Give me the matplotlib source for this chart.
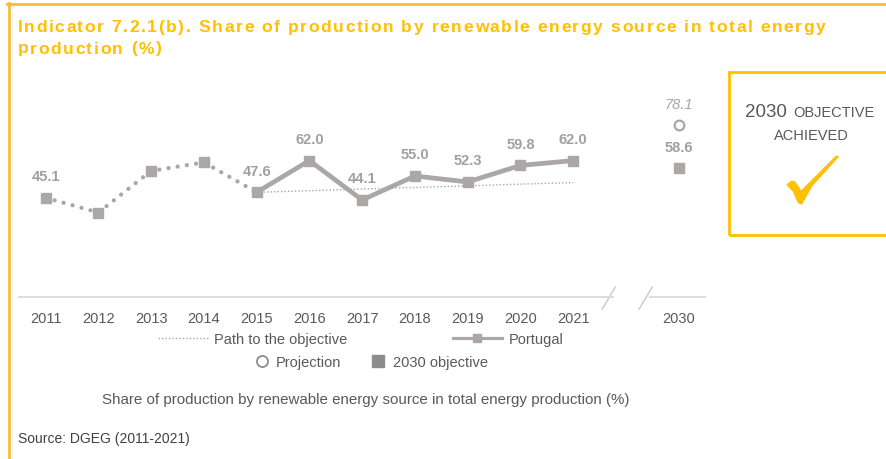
import numpy as np
import matplotlib
matplotlib.use("Agg")
import matplotlib.pyplot as plt
from matplotlib.lines import Line2D
from matplotlib.patches import Rectangle, Polygon

plt.rcParams['font.family'] = ['Liberation Sans', 'DejaVu Sans']

# ---------------- data ----------------
years = ['2011', '2012', '2013', '2014', '2015', '2016', '2017', '2018', '2019', '2020', '2021']
portugal = [45.1, 38.4, 57.3, 61.2, 47.6, 62.0, 44.1, 55.0, 52.3, 59.8, 62.0]
portugal_labeled = [True, False, False, False, True, True, True, True, True, True, True]
path_years = ['2015', '2016', '2017', '2018', '2019', '2020', '2021']
path_values = [47.6, 48.3, 49.1, 49.8, 50.5, 51.3, 52.0]
target_year = '2030'
projection_2030 = 78.1
objective_2030 = 58.6

title_lines = ["Indicator 7.2.1(b). Share of production by renewable energy source in total energy",
               "production (%)"]
caption = "Share of production by renewable energy source in total energy production (%)"
source = "Source: DGEG (2011-2021)"

# ---------------- styles ----------------
W, H = 887, 460
YELLOW = '#FFC000'
BORDER = '#F9BC33'
LINE = '#ABA7A7'
LABEL = '#A0A0A0'
TEXT = '#595959'

fig = plt.figure(figsize=(W / 100, H / 100), dpi=100)
renderer = fig.canvas.get_renderer()

def fx(px):
    return px / W

def fy(py):
    return 1 - py / H

# frame lines (top and left)
fig.add_artist(Line2D([fx(7.5), 1], [fy(5), fy(5)], color=BORDER, lw=2.0))
fig.add_artist(Line2D([fx(8.7), fx(8.7)], [fy(4), 0], color=BORDER, lw=2.0))

# title with letter spacing (tracking)
tprops = dict(fontsize=12.6, fontweight='bold', color=YELLOW,
              family=['Liberation Sans Narrow', 'Liberation Sans'])

def text_w(s):
    t = fig.text(0, 0, s, **tprops)
    w = t.get_window_extent(renderer).width
    t.remove()
    return w

first = title_lines[0]
natural = text_w(first)
track = (808 - natural) / (len(first) - 1)
for line, base in zip(title_lines, [32, 53.5]):
    for i, ch in enumerate(line):
        if ch == ' ':
            continue
        left = text_w(line[:i + 1]) - text_w(ch)
        fig.text(fx(17.5 + left + i * track), fy(base), ch, ha='left', va='baseline', **tprops)

ax = fig.add_axes([fx(19.3), fy(298), fx(705) - fx(19.3), (298 - 78) / H])
ax.set_xlim(-0.5, 12.5)
ax.set_ylim(0, 100)
for s in ['top', 'right', 'left']:
    ax.spines[s].set_visible(False)
ax.spines['bottom'].set_bounds(-0.5, 10.75)
ax.spines['bottom'].set_color('#D9D9D9')
ax.spines['bottom'].set_linewidth(1.3)
ax.plot([11.45, 12.5], [0, 0], color='#D9D9D9', lw=1.3, clip_on=False)
for bx in (10.75, 11.45):
    ax.plot([bx - 0.2, bx + 0.05], [-5.5, 4.5], color='#C8C8C8', lw=1.0, clip_on=False)

xpos = np.arange(len(years))
x2030 = len(years) + 1
ax.set_xticks(list(xpos) + [x2030])
ax.set_xticklabels(years + [target_year], fontsize=10.5, color=TEXT)
ax.tick_params(axis='x', length=0, pad=10)
ax.set_yticks([])

path_x = [years.index(y) for y in path_years]
ax.plot(path_x, path_values, color='#A6A6A6', lw=1.0, ls=(0, (1, 1.5)), zorder=2)

split = years.index('2015')
ax.plot(xpos[:split + 1], portugal[:split + 1], color=LINE, lw=3.1,
        ls=(0, (0.01, 2.15)), dash_capstyle='round', zorder=3)
ax.plot(xpos[split:], portugal[split:], color=LINE, lw=3.4, zorder=3)
ax.plot(xpos, portugal, ls='none', marker='s', ms=7.3, color=LINE, zorder=4)

for xi, v, lab in zip(xpos, portugal, portugal_labeled):
    if lab:
        ax.annotate(f"{v:.1f}", (xi, v), xytext=(0, 15.5), textcoords='offset points',
                    ha='center', va='center', fontsize=10.5, fontweight='bold', color=LABEL)

ax.plot([x2030], [projection_2030], ls='none', marker='o', ms=7, mfc='white',
        mec=LINE, mew=1.6, zorder=4)
ax.plot([x2030], [objective_2030], ls='none', marker='s', ms=7, color=LINE, zorder=4)
ax.annotate(f"{projection_2030:.1f}", (x2030, projection_2030), xytext=(0, 15.5),
            textcoords='offset points', ha='center', va='center', fontsize=10.5,
            fontstyle='italic', color='#A6A6A6')
ax.annotate(f"{objective_2030:.1f}", (x2030, objective_2030), xytext=(0, 15.5),
            textcoords='offset points', ha='center', va='center', fontsize=10.5,
            fontweight='bold', color=LABEL)

# legends
h1 = [Line2D([], [], color='#A6A6A6', lw=1.0, ls=(0, (1, 1.5))),
      Line2D([], [], color=LINE, lw=2.3, marker='s', ms=5.5)]
leg1 = fig.legend(h1, ['Path to the objective', 'Portugal'], loc='center',
                  bbox_to_anchor=(fx(361), fy(340)), ncol=2, frameon=False,
                  fontsize=10.5, handlelength=3.4, handletextpad=0.45,
                  columnspacing=7.2, labelcolor=TEXT)
h2 = [Line2D([], [], ls='none', marker='o', ms=8, mfc='white', mec='#8C8C8C', mew=1.3),
      Line2D([], [], ls='none', marker='s', ms=8, color='#8C8C8C')]
leg2 = fig.legend(h2, ['Projection', '2030 objective'], loc='center',
                  bbox_to_anchor=(fx(371), fy(363)), ncol=2, frameon=False,
                  fontsize=10.5, handlelength=1.0, handletextpad=0.5,
                  columnspacing=2.0, labelcolor=TEXT)

fig.text(fx(366), fy(400), caption, ha='center', va='center', fontsize=10.9, color=TEXT)
fig.text(fx(17.5), fy(439), source, ha='left', va='center', fontsize=10, color='#404040')

# objective box
fig.add_artist(Rectangle((fx(729), fy(236)), fx(900) - fx(729), fy(73) - fy(236),
                         transform=fig.transFigure, fill=False, ec=YELLOW, lw=2.0,
                         clip_on=False))
fig.text(fx(787), fy(117), '2030', ha='right', va='baseline', fontsize=13.5, color=TEXT)
fig.text(fx(793), fy(117), 'OBJECTIVE', ha='left', va='baseline', fontsize=10.5, color=TEXT)
fig.text(fx(811), fy(140), 'ACHIEVED', ha='center', va='baseline', fontsize=10.5, color=TEXT)

# check mark glyph (decorative), shape in 3x-zoom pixel units around the box centre
check_shape = [(36, 122), (50, 111), (60, 114), (78, 142), (184, 36), (190, 38),
               (112, 124), (80, 180), (70, 176), (55, 142)]
fig.add_artist(Polygon([(fx(775 + a / 3), fy(145 + b / 3)) for a, b in check_shape],
                       closed=True, transform=fig.transFigure, fc=YELLOW, ec=YELLOW,
                       lw=0.8, joinstyle='round'))

fig.savefig('out.png', dpi=100)
